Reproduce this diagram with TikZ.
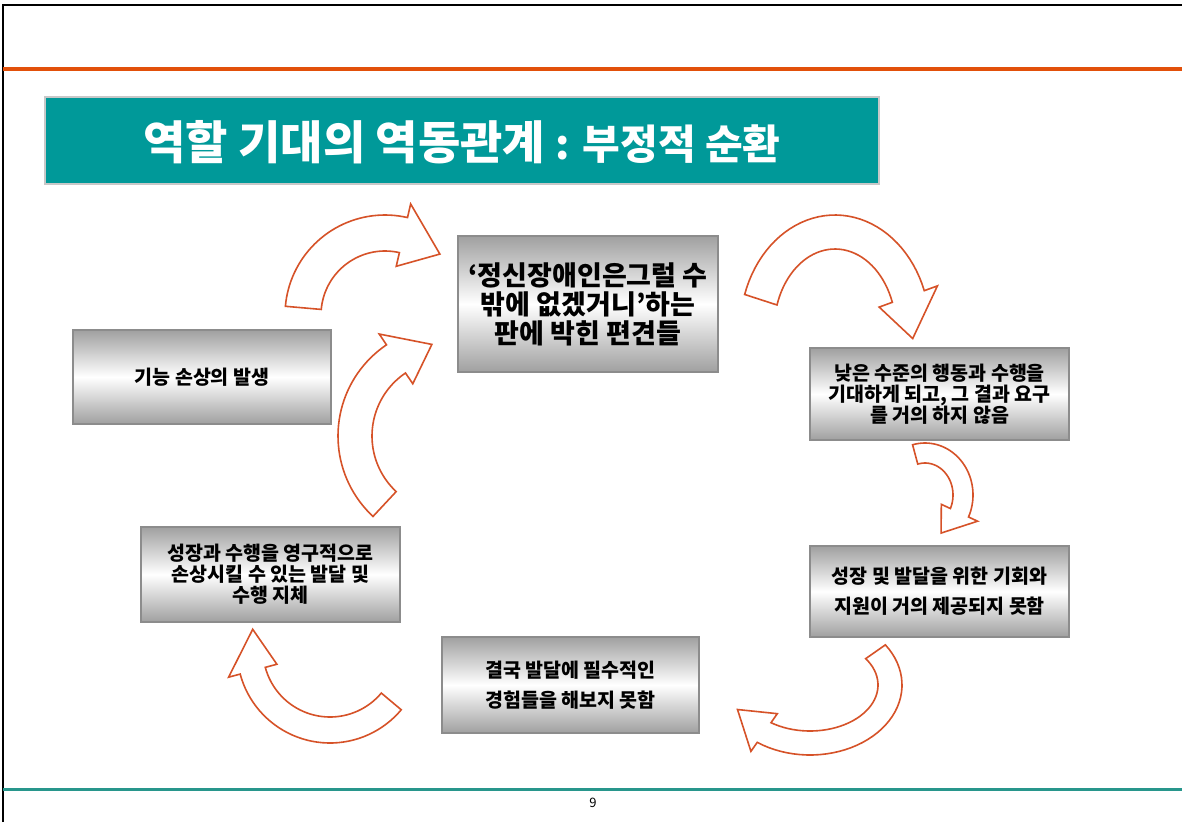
\documentclass[tikz,border=0pt]{standalone}
\usepackage{fontspec}
\newfontfamily\kr{Noto Sans CJK KR}
\definecolor{arrred}{RGB}{214,82,40}
\definecolor{topline}{RGB}{226,80,10}
\definecolor{botline}{RGB}{40,150,140}
\definecolor{titleteal}{RGB}{0,153,153}
\definecolor{boxedge}{RGB}{140,140,140}
\definecolor{boxgray}{RGB}{160,160,160}
\newcommand\carrow[9]{%
  \begin{scope}[shift={(#1,#2)}]
  \draw[arrowsty]
    plot[domain=#5:#6,samples=40] ({(#3-#8)*cos(\x)},{(#4-#8)*sin(\x)})
    -- ({(#3-#8-#9)*cos(#6)},{(#4-#8-#9)*sin(#6)})
    -- ({#3*cos(#7)},{#4*sin(#7)})
    -- ({(#3+#8+#9)*cos(#6)},{(#4+#8+#9)*sin(#6)})
    -- plot[domain=#6:#5,samples=40] ({(#3+#8)*cos(\x)},{(#4+#8)*sin(\x)})
    -- cycle;
  \end{scope}}
\begin{document}
\begin{tikzpicture}[x=1pt,y=-1pt,
  arrowsty/.style={draw=arrred,line width=1.6pt,fill=white,line join=miter},
  graybox/.style={draw=boxedge,line width=1.5pt,top color=boxgray,bottom color=boxgray,middle color=white,
     align=center,inner sep=0pt,text=black},
  smalltext/.style={font=\kr\bfseries\fontsize{19.5}{21}\selectfont},
  widetext/.style={font=\kr\bfseries\fontsize{19.5}{30}\selectfont}]
\useasboundingbox (0,0) rectangle (1182,822);
\fill[white] (0,0) rectangle (1182,822);
% frame lines
\coordinate (fl0) at (3,5);
\coordinate (fl1) at (1182,5);
\coordinate (fl2) at (3,822);
\draw[black,line width=2pt] (fl2) -- (fl0) -- (fl1);
\coordinate (ol0) at (3,69);
\coordinate (ol1) at (1182,69);
\draw[topline,line width=3.5pt] (ol0) -- (ol1);
\coordinate (tl0) at (3,789);
\coordinate (tl1) at (1182,789);
\draw[botline,line width=3pt] (tl0) -- (tl1);
% title
\node[draw={rgb,255:red,200;green,200;blue,200},line width=2pt,fill=titleteal,
  minimum width=834pt,minimum height=87pt,inner sep=0pt] (title) at (462,140.5) {};
\node[text=white,inner sep=0pt,font=\kr\bfseries] (titletext) at (462,142)
  {\fontsize{46}{52}\selectfont 역할 기대의 역동관계 \fontsize{41}{52}\selectfont : 부정적 순환};
% boxes
\node[graybox,minimum width=260pt,minimum height=136pt,font=\kr\bfseries\fontsize{27}{29}\selectfont]
  (top) at (588,304) {‘정신장애인은그럴 수\\밖에 없겠거니’하는\\판에 박힌 편견들};
\node[graybox,smalltext,minimum width=259pt,minimum height=92pt]
  (r1) at (939.5,394) {낮은 수준의 행동과 수행을\\기대하게 되고, 그 결과 요구\\를 거의 하지 않음};
\node[graybox,widetext,minimum width=259pt,minimum height=91pt]
  (r2) at (939.5,591.5) {성장 및 발달을 위한 기회와\\지원이 거의 제공되지 못함};
\node[graybox,widetext,minimum width=257pt,minimum height=96pt]
  (bot) at (570.5,685) {결국 발달에 필수적인\\경험들을 해보지 못함};
\node[graybox,smalltext,minimum width=259pt,minimum height=95pt]
  (ll) at (270.5,574.5) {성장과 수행을 영구적으로\\손상시킬 수 있는 발달 및\\수행 지체};
\node[graybox,smalltext,minimum width=258pt,minimum height=94pt]
  (l) at (202,377) {기능 손상의 발생};
% curved arrows
\carrow{385}{315}{82}{82}{185}{283}{312}{18}{14}
\carrow{448}{436}{93}{93}{133}{236}{260}{17}{13}
\carrow{835}{330}{78}{98}{198}{340}{365}{17}{14}
\carrow{925}{495}{38}{42}{255}{385}{425}{10}{10}
\carrow{810}{685}{80}{58}{-35}{125}{155}{12}{11}
\carrow{330}{650}{80}{80}{40}{165}{195}{13}{12}
% page number
\node[inner sep=0pt,font=\kr\fontsize{13}{15}\selectfont] (pnum) at (593,803) {9};
\end{tikzpicture}
\end{document}
